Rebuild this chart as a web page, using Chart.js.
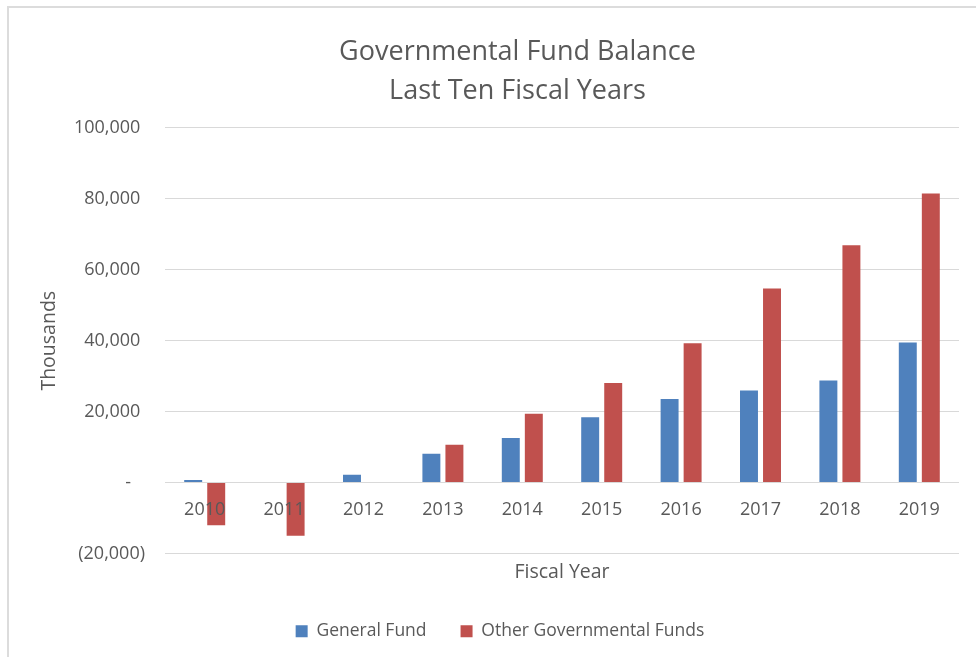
<!DOCTYPE html>
<html>
<head>
<meta charset="utf-8">
<title>Governmental Fund Balance</title>
<script src="https://cdn.jsdelivr.net/npm/chart.js@4/dist/chart.umd.min.js"></script>
<style>
  html, body { margin: 0; padding: 0; background: #fff; }
  #wrap { position: relative; width: 976px; height: 657px; overflow: hidden; }
  #frame {
    position: absolute; left: 7px; top: 6px; width: 980px; height: 660px;
    border: 2px solid #dcdcdc; box-sizing: border-box;
  }
  #fundChart { position: absolute; left: 0; top: 0; }
</style>
</head>
<body>
<div id="wrap">
  <div id="frame"></div>
  <canvas id="fundChart" width="976" height="657"></canvas>
</div>
<script>
// fiscal years and balances, in thousands
const years = ['2010', '2011', '2012', '2013', '2014', '2015', '2016', '2017', '2018', '2019'];
const generalFund = [700, 0, 2200, 8100, 12600, 18400, 23600, 26000, 28800, 39500];
const otherFunds = [-12000, -15000, 0, 10700, 19400, 28100, 39300, 54700, 66900, 81500];

const yMin = -20000;
const yMax = 100000;
const yStep = 20000;

const textGray = '#595959';
const gridGray = '#d9d9d9';
const fontFamily = '"Open Sans", "Liberation Sans", sans-serif';

// accounting style: 80,000 / - / (20,000)
function accounting(v) {
    if (v === 0) return '-   ';
    const s = Math.abs(v).toLocaleString('en-US');
    return v < 0 ? '(' + s + ')' : s + ' ';
}

// nudge the title block a little right of the legend's centre
const titleShift = {
    id: 'titleShift',
    afterLayout(chart) {
        if (chart.titleBlock) chart.titleBlock.left += 35;
    }
};

const ctx = document.getElementById('fundChart');

new Chart(ctx, {
    type: 'bar',
    data: {
        labels: years,
        datasets: [
            {
                label: 'General Fund',
                data: generalFund,
                backgroundColor: '#4f81bd',
                categoryPercentage: 0.58,
                barPercentage: 0.78
            },
            {
                label: 'Other Governmental Funds',
                data: otherFunds,
                backgroundColor: '#c0504d',
                categoryPercentage: 0.58,
                barPercentage: 0.78
            }
        ]
    },
    plugins: [titleShift],
    options: {
        responsive: false,
        animation: false,
        layout: { padding: { left: 41, right: 17, top: 0, bottom: 7 } },
        plugins: {
            title: {
                display: true,
                text: ['Governmental Fund Balance', 'Last Ten Fiscal Years'],
                color: textGray,
                font: { family: fontFamily, size: 27, weight: '400', lineHeight: 1.444 },
                padding: { top: 33, bottom: 17 }
            },
            legend: {
                position: 'bottom',
                labels: {
                    color: textGray,
                    font: { family: fontFamily, size: 17.5 },
                    boxWidth: 12,
                    boxHeight: 12,
                    padding: 34
                }
            },
            tooltip: { enabled: false }
        },
        scales: {
            // bottom axis only carries the title
            x: {
                position: 'bottom',
                grid: { display: false },
                border: { display: false },
                ticks: { display: false },
                title: {
                    display: true,
                    text: 'Fiscal Year',
                    color: textGray,
                    font: { family: fontFamily, size: 19.5 },
                    padding: { top: 0, bottom: 4 }
                },
                afterFit: (scale) => { scale.height = 35; }
            },
            // year labels sit under the zero line, drawn over the bars
            xZero: {
                type: 'category',
                labels: years,
                position: { y: 0 },
                grid: { display: false },
                border: { display: false },
                ticks: {
                    z: 1,
                    color: textGray,
                    font: { family: fontFamily, size: 18 },
                    padding: 8
                }
            },
            y: {
                min: yMin,
                max: yMax,
                border: { display: false },
                grid: { color: gridGray, lineWidth: 1, drawTicks: false },
                ticks: {
                    stepSize: yStep,
                    color: textGray,
                    font: { family: fontFamily, size: 18 },
                    padding: 20,
                    callback: (v) => accounting(v)
                },
                title: {
                    display: true,
                    text: 'Thousands',
                    color: textGray,
                    font: { family: fontFamily, size: 19.5 },
                    padding: { top: -3, bottom: 0 }
                },
                afterFit: (scale) => { scale.width = 124; }
            }
        }
    }
});
</script>
</body>
</html>
